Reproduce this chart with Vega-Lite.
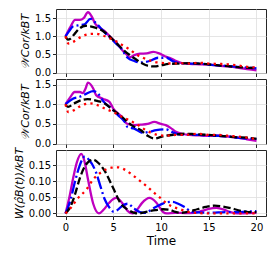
{
"$schema": "https://vega.github.io/schema/vega-lite/v6.json",
"padding": {"left": 12, "top": 7, "right": 4, "bottom": 5},
"spacing": 6,
"bounds": "flush",
"config": {
  "view": {"stroke": "#262626", "strokeWidth": 1},
  "axis": {"labelFont": "DejaVu Sans", "labelFontSize": 10, "labelColor": "#000", "titleFont": "DejaVu Sans", "titleFontWeight": "normal", "titleColor": "#000", "domain": false, "tickColor": "#262626", "tickSize": 3.5, "labelPadding": 2, "gridColor": "#dedede", "gridWidth": 0.8},
  "line": {"strokeWidth": 2.3, "interpolate": "monotone"}
},
"datasets": {"d": [
{"p":1,"s":"m","t":0,"v":1.0},{"p":1,"s":"m","t":0.5,"v":1.25},{"p":1,"s":"m","t":1.0,"v":1.45},{"p":1,"s":"m","t":1.5,"v":1.45},{"p":1,"s":"m","t":1.9,"v":1.5},{"p":1,"s":"m","t":2.35,"v":1.66},{"p":1,"s":"m","t":2.75,"v":1.54},{"p":1,"s":"m","t":3.1,"v":1.35},{"p":1,"s":"m","t":3.4,"v":1.27},{"p":1,"s":"m","t":4.1,"v":1.14},{"p":1,"s":"m","t":4.8,"v":0.95},{"p":1,"s":"m","t":5.5,"v":0.77},{"p":1,"s":"m","t":6.0,"v":0.6},{"p":1,"s":"m","t":6.4,"v":0.5},{"p":1,"s":"m","t":6.7,"v":0.42},{"p":1,"s":"m","t":7.2,"v":0.48},{"p":1,"s":"m","t":7.8,"v":0.52},{"p":1,"s":"m","t":8.5,"v":0.53},{"p":1,"s":"m","t":9.2,"v":0.57},{"p":1,"s":"m","t":9.8,"v":0.53},{"p":1,"s":"m","t":10.4,"v":0.45},{"p":1,"s":"m","t":10.9,"v":0.41},{"p":1,"s":"m","t":11.6,"v":0.32},{"p":1,"s":"m","t":12.2,"v":0.26},{"p":1,"s":"m","t":13,"v":0.24},{"p":1,"s":"m","t":14,"v":0.23},{"p":1,"s":"m","t":15,"v":0.22},{"p":1,"s":"m","t":16,"v":0.19},{"p":1,"s":"m","t":17,"v":0.17},{"p":1,"s":"m","t":18,"v":0.14},{"p":1,"s":"m","t":19,"v":0.1},{"p":1,"s":"m","t":20,"v":0.06},
{"p":1,"s":"b","t":0,"v":1.0},{"p":1,"s":"b","t":0.4,"v":1.15},{"p":1,"s":"b","t":0.77,"v":1.27},{"p":1,"s":"b","t":1.3,"v":1.3},{"p":1,"s":"b","t":2.0,"v":1.33},{"p":1,"s":"b","t":2.6,"v":1.48},{"p":1,"s":"b","t":3.2,"v":1.36},{"p":1,"s":"b","t":3.6,"v":1.25},{"p":1,"s":"b","t":4.0,"v":1.13},{"p":1,"s":"b","t":4.7,"v":0.95},{"p":1,"s":"b","t":5.3,"v":0.8},{"p":1,"s":"b","t":5.85,"v":0.66},{"p":1,"s":"b","t":6.2,"v":0.52},{"p":1,"s":"b","t":6.5,"v":0.41},{"p":1,"s":"b","t":7.2,"v":0.32},{"p":1,"s":"b","t":7.8,"v":0.28},{"p":1,"s":"b","t":8.8,"v":0.32},{"p":1,"s":"b","t":9.7,"v":0.41},{"p":1,"s":"b","t":10.6,"v":0.41},{"p":1,"s":"b","t":11.2,"v":0.32},{"p":1,"s":"b","t":12,"v":0.26},{"p":1,"s":"b","t":13,"v":0.25},{"p":1,"s":"b","t":14,"v":0.25},{"p":1,"s":"b","t":15,"v":0.22},{"p":1,"s":"b","t":16,"v":0.2},{"p":1,"s":"b","t":17,"v":0.18},{"p":1,"s":"b","t":18,"v":0.16},{"p":1,"s":"b","t":19,"v":0.14},{"p":1,"s":"b","t":20,"v":0.12},
{"p":1,"s":"k","t":0,"v":1.0},{"p":1,"s":"k","t":0.25,"v":0.91},{"p":1,"s":"k","t":0.5,"v":0.93},{"p":1,"s":"k","t":0.9,"v":1.05},{"p":1,"s":"k","t":1.4,"v":1.2},{"p":1,"s":"k","t":2.1,"v":1.29},{"p":1,"s":"k","t":2.6,"v":1.27},{"p":1,"s":"k","t":3.2,"v":1.23},{"p":1,"s":"k","t":3.7,"v":1.18},{"p":1,"s":"k","t":4.4,"v":1.05},{"p":1,"s":"k","t":5.3,"v":0.82},{"p":1,"s":"k","t":6.2,"v":0.59},{"p":1,"s":"k","t":6.8,"v":0.47},{"p":1,"s":"k","t":7.4,"v":0.36},{"p":1,"s":"k","t":8.0,"v":0.26},{"p":1,"s":"k","t":8.6,"v":0.19},{"p":1,"s":"k","t":9.3,"v":0.17},{"p":1,"s":"k","t":10.0,"v":0.2},{"p":1,"s":"k","t":10.8,"v":0.24},{"p":1,"s":"k","t":12,"v":0.25},{"p":1,"s":"k","t":13,"v":0.26},{"p":1,"s":"k","t":14,"v":0.25},{"p":1,"s":"k","t":15,"v":0.23},{"p":1,"s":"k","t":16,"v":0.2},{"p":1,"s":"k","t":17,"v":0.18},{"p":1,"s":"k","t":18,"v":0.15},{"p":1,"s":"k","t":19,"v":0.14},{"p":1,"s":"k","t":20,"v":0.12},
{"p":1,"s":"r","t":0,"v":1.0},{"p":1,"s":"r","t":0.3,"v":0.8},{"p":1,"s":"r","t":0.9,"v":0.86},{"p":1,"s":"r","t":1.6,"v":0.98},{"p":1,"s":"r","t":2.5,"v":1.06},{"p":1,"s":"r","t":3.2,"v":1.07},{"p":1,"s":"r","t":3.9,"v":1.02},{"p":1,"s":"r","t":4.6,"v":0.95},{"p":1,"s":"r","t":5.3,"v":0.86},{"p":1,"s":"r","t":6.0,"v":0.75},{"p":1,"s":"r","t":6.7,"v":0.64},{"p":1,"s":"r","t":7.4,"v":0.5},{"p":1,"s":"r","t":8.1,"v":0.41},{"p":1,"s":"r","t":9.0,"v":0.32},{"p":1,"s":"r","t":9.6,"v":0.28},{"p":1,"s":"r","t":10.5,"v":0.26},{"p":1,"s":"r","t":11.2,"v":0.25},{"p":1,"s":"r","t":12,"v":0.26},{"p":1,"s":"r","t":13,"v":0.25},{"p":1,"s":"r","t":14,"v":0.27},{"p":1,"s":"r","t":15,"v":0.25},{"p":1,"s":"r","t":16,"v":0.24},{"p":1,"s":"r","t":17,"v":0.23},{"p":1,"s":"r","t":18,"v":0.2},{"p":1,"s":"r","t":19,"v":0.16},{"p":1,"s":"r","t":20,"v":0.14},
{"p":2,"s":"m","t":0,"v":1.0},{"p":2,"s":"m","t":0.5,"v":1.18},{"p":2,"s":"m","t":0.95,"v":1.31},{"p":2,"s":"m","t":1.5,"v":1.31},{"p":2,"s":"m","t":1.8,"v":1.28},{"p":2,"s":"m","t":2.1,"v":1.4},{"p":2,"s":"m","t":2.35,"v":1.55},{"p":2,"s":"m","t":2.9,"v":1.4},{"p":2,"s":"m","t":3.2,"v":1.23},{"p":2,"s":"m","t":3.9,"v":1.14},{"p":2,"s":"m","t":4.6,"v":1.06},{"p":2,"s":"m","t":5.0,"v":0.89},{"p":2,"s":"m","t":5.9,"v":0.68},{"p":2,"s":"m","t":6.4,"v":0.51},{"p":2,"s":"m","t":7.1,"v":0.47},{"p":2,"s":"m","t":7.9,"v":0.48},{"p":2,"s":"m","t":8.6,"v":0.5},{"p":2,"s":"m","t":9.3,"v":0.55},{"p":2,"s":"m","t":10.0,"v":0.5},{"p":2,"s":"m","t":10.5,"v":0.47},{"p":2,"s":"m","t":11.0,"v":0.4},{"p":2,"s":"m","t":11.5,"v":0.31},{"p":2,"s":"m","t":12.2,"v":0.25},{"p":2,"s":"m","t":13,"v":0.22},{"p":2,"s":"m","t":14,"v":0.21},{"p":2,"s":"m","t":15,"v":0.2},{"p":2,"s":"m","t":16,"v":0.2},{"p":2,"s":"m","t":17,"v":0.18},{"p":2,"s":"m","t":18,"v":0.15},{"p":2,"s":"m","t":19,"v":0.11},{"p":2,"s":"m","t":20,"v":0.07},
{"p":2,"s":"b","t":0,"v":1.0},{"p":2,"s":"b","t":0.4,"v":1.08},{"p":2,"s":"b","t":0.77,"v":1.14},{"p":2,"s":"b","t":1.5,"v":1.19},{"p":2,"s":"b","t":2.2,"v":1.27},{"p":2,"s":"b","t":2.9,"v":1.33},{"p":2,"s":"b","t":3.4,"v":1.27},{"p":2,"s":"b","t":4.0,"v":1.06},{"p":2,"s":"b","t":4.8,"v":0.89},{"p":2,"s":"b","t":5.5,"v":0.72},{"p":2,"s":"b","t":6.2,"v":0.55},{"p":2,"s":"b","t":6.5,"v":0.42},{"p":2,"s":"b","t":7.2,"v":0.38},{"p":2,"s":"b","t":8.1,"v":0.27},{"p":2,"s":"b","t":8.8,"v":0.3},{"p":2,"s":"b","t":9.5,"v":0.34},{"p":2,"s":"b","t":10.5,"v":0.36},{"p":2,"s":"b","t":11.3,"v":0.28},{"p":2,"s":"b","t":12,"v":0.23},{"p":2,"s":"b","t":13,"v":0.22},{"p":2,"s":"b","t":14,"v":0.22},{"p":2,"s":"b","t":15,"v":0.2},{"p":2,"s":"b","t":16,"v":0.2},{"p":2,"s":"b","t":17,"v":0.18},{"p":2,"s":"b","t":18,"v":0.15},{"p":2,"s":"b","t":19,"v":0.13},{"p":2,"s":"b","t":20,"v":0.12},
{"p":2,"s":"k","t":0,"v":1.0},{"p":2,"s":"k","t":0.25,"v":0.93},{"p":2,"s":"k","t":0.9,"v":1.02},{"p":2,"s":"k","t":1.6,"v":1.1},{"p":2,"s":"k","t":2.3,"v":1.13},{"p":2,"s":"k","t":3.4,"v":1.08},{"p":2,"s":"k","t":4.1,"v":1.02},{"p":2,"s":"k","t":5.0,"v":0.85},{"p":2,"s":"k","t":5.9,"v":0.68},{"p":2,"s":"k","t":6.9,"v":0.47},{"p":2,"s":"k","t":7.9,"v":0.34},{"p":2,"s":"k","t":8.6,"v":0.2},{"p":2,"s":"k","t":9.3,"v":0.13},{"p":2,"s":"k","t":10.0,"v":0.17},{"p":2,"s":"k","t":10.5,"v":0.2},{"p":2,"s":"k","t":11.5,"v":0.23},{"p":2,"s":"k","t":12.5,"v":0.25},{"p":2,"s":"k","t":13.5,"v":0.24},{"p":2,"s":"k","t":15,"v":0.22},{"p":2,"s":"k","t":16,"v":0.2},{"p":2,"s":"k","t":17,"v":0.18},{"p":2,"s":"k","t":18,"v":0.16},{"p":2,"s":"k","t":19,"v":0.15},{"p":2,"s":"k","t":20,"v":0.12},
{"p":2,"s":"r","t":0,"v":1.0},{"p":2,"s":"r","t":0.3,"v":0.8},{"p":2,"s":"r","t":0.9,"v":0.85},{"p":2,"s":"r","t":1.6,"v":0.96},{"p":2,"s":"r","t":2.5,"v":1.02},{"p":2,"s":"r","t":3.2,"v":0.99},{"p":2,"s":"r","t":4.1,"v":0.89},{"p":2,"s":"r","t":5.0,"v":0.8},{"p":2,"s":"r","t":5.9,"v":0.68},{"p":2,"s":"r","t":6.7,"v":0.59},{"p":2,"s":"r","t":7.6,"v":0.47},{"p":2,"s":"r","t":8.5,"v":0.33},{"p":2,"s":"r","t":9.5,"v":0.23},{"p":2,"s":"r","t":10.5,"v":0.2},{"p":2,"s":"r","t":11.5,"v":0.22},{"p":2,"s":"r","t":12.5,"v":0.22},{"p":2,"s":"r","t":14,"v":0.25},{"p":2,"s":"r","t":15,"v":0.22},{"p":2,"s":"r","t":16,"v":0.22},{"p":2,"s":"r","t":17,"v":0.2},{"p":2,"s":"r","t":18,"v":0.18},{"p":2,"s":"r","t":19,"v":0.15},{"p":2,"s":"r","t":20,"v":0.12},
{"p":3,"s":"m","t":0,"v":0},{"p":3,"s":"m","t":0.4,"v":0.05},{"p":3,"s":"m","t":0.8,"v":0.11},{"p":3,"s":"m","t":1.2,"v":0.16},{"p":3,"s":"m","t":1.65,"v":0.185},{"p":3,"s":"m","t":2.0,"v":0.16},{"p":3,"s":"m","t":2.35,"v":0.106},{"p":3,"s":"m","t":2.9,"v":0.03},{"p":3,"s":"m","t":3.5,"v":0},{"p":3,"s":"m","t":4.0,"v":0.012},{"p":3,"s":"m","t":4.6,"v":0.034},{"p":3,"s":"m","t":5.3,"v":0.048},{"p":3,"s":"m","t":6.0,"v":0.03},{"p":3,"s":"m","t":6.5,"v":0.008},{"p":3,"s":"m","t":7.0,"v":0},{"p":3,"s":"m","t":7.5,"v":0.012},{"p":3,"s":"m","t":8.0,"v":0.032},{"p":3,"s":"m","t":8.8,"v":0.048},{"p":3,"s":"m","t":9.5,"v":0.034},{"p":3,"s":"m","t":10.2,"v":0.005},{"p":3,"s":"m","t":10.6,"v":0},{"p":3,"s":"m","t":11.5,"v":0.002},{"p":3,"s":"m","t":12.5,"v":0.001},{"p":3,"s":"m","t":13.5,"v":0.002},{"p":3,"s":"m","t":14.3,"v":0.008},{"p":3,"s":"m","t":15.0,"v":0.014},{"p":3,"s":"m","t":15.8,"v":0.017},{"p":3,"s":"m","t":16.6,"v":0.012},{"p":3,"s":"m","t":17.2,"v":0.005},{"p":3,"s":"m","t":18,"v":0},{"p":3,"s":"m","t":19,"v":0.001},{"p":3,"s":"m","t":20,"v":0.002},
{"p":3,"s":"b","t":0,"v":0},{"p":3,"s":"b","t":0.5,"v":0.04},{"p":3,"s":"b","t":1.0,"v":0.1},{"p":3,"s":"b","t":1.5,"v":0.15},{"p":3,"s":"b","t":2.0,"v":0.176},{"p":3,"s":"b","t":2.5,"v":0.165},{"p":3,"s":"b","t":3.2,"v":0.127},{"p":3,"s":"b","t":3.7,"v":0.08},{"p":3,"s":"b","t":4.1,"v":0.044},{"p":3,"s":"b","t":4.6,"v":0.018},{"p":3,"s":"b","t":5.0,"v":0.006},{"p":3,"s":"b","t":5.4,"v":0.01},{"p":3,"s":"b","t":6.0,"v":0.025},{"p":3,"s":"b","t":6.5,"v":0.03},{"p":3,"s":"b","t":7.2,"v":0.015},{"p":3,"s":"b","t":7.8,"v":0.004},{"p":3,"s":"b","t":8.3,"v":0.002},{"p":3,"s":"b","t":8.8,"v":0.008},{"p":3,"s":"b","t":9.4,"v":0.019},{"p":3,"s":"b","t":10.0,"v":0.028},{"p":3,"s":"b","t":10.5,"v":0.034},{"p":3,"s":"b","t":11.2,"v":0.036},{"p":3,"s":"b","t":11.8,"v":0.03},{"p":3,"s":"b","t":12.5,"v":0.019},{"p":3,"s":"b","t":13.3,"v":0.004},{"p":3,"s":"b","t":14,"v":0.003},{"p":3,"s":"b","t":15,"v":0.002},{"p":3,"s":"b","t":16,"v":0.003},{"p":3,"s":"b","t":17,"v":0.004},{"p":3,"s":"b","t":18,"v":0.004},{"p":3,"s":"b","t":19,"v":0.006},{"p":3,"s":"b","t":20,"v":0.007},
{"p":3,"s":"k","t":0,"v":0},{"p":3,"s":"k","t":0.5,"v":0.02},{"p":3,"s":"k","t":1.0,"v":0.06},{"p":3,"s":"k","t":1.5,"v":0.11},{"p":3,"s":"k","t":2.0,"v":0.145},{"p":3,"s":"k","t":2.5,"v":0.163},{"p":3,"s":"k","t":2.9,"v":0.167},{"p":3,"s":"k","t":3.5,"v":0.155},{"p":3,"s":"k","t":4.1,"v":0.132},{"p":3,"s":"k","t":5.0,"v":0.078},{"p":3,"s":"k","t":5.8,"v":0.03},{"p":3,"s":"k","t":6.5,"v":0.012},{"p":3,"s":"k","t":7.2,"v":0.002},{"p":3,"s":"k","t":7.6,"v":0},{"p":3,"s":"k","t":8.6,"v":0.006},{"p":3,"s":"k","t":9.4,"v":0.01},{"p":3,"s":"k","t":10.2,"v":0.013},{"p":3,"s":"k","t":10.8,"v":0.012},{"p":3,"s":"k","t":11.5,"v":0.005},{"p":3,"s":"k","t":12.1,"v":0.002},{"p":3,"s":"k","t":13,"v":0.006},{"p":3,"s":"k","t":13.8,"v":0.013},{"p":3,"s":"k","t":14.7,"v":0.02},{"p":3,"s":"k","t":15.6,"v":0.024},{"p":3,"s":"k","t":16.4,"v":0.022},{"p":3,"s":"k","t":17.2,"v":0.017},{"p":3,"s":"k","t":18.4,"v":0.008},{"p":3,"s":"k","t":19.2,"v":0.004},{"p":3,"s":"k","t":20,"v":0.004},
{"p":3,"s":"r","t":0,"v":0},{"p":3,"s":"r","t":0.6,"v":0.019},{"p":3,"s":"r","t":1.2,"v":0.044},{"p":3,"s":"r","t":2.2,"v":0.075},{"p":3,"s":"r","t":2.9,"v":0.106},{"p":3,"s":"r","t":3.7,"v":0.127},{"p":3,"s":"r","t":4.8,"v":0.142},{"p":3,"s":"r","t":5.5,"v":0.143},{"p":3,"s":"r","t":6.2,"v":0.136},{"p":3,"s":"r","t":6.9,"v":0.122},{"p":3,"s":"r","t":7.8,"v":0.101},{"p":3,"s":"r","t":8.6,"v":0.082},{"p":3,"s":"r","t":9.2,"v":0.066},{"p":3,"s":"r","t":9.9,"v":0.049},{"p":3,"s":"r","t":10.5,"v":0.033},{"p":3,"s":"r","t":11.0,"v":0.024},{"p":3,"s":"r","t":12.1,"v":0.012},{"p":3,"s":"r","t":13,"v":0.004},{"p":3,"s":"r","t":14,"v":0.001},{"p":3,"s":"r","t":15,"v":0},{"p":3,"s":"r","t":16,"v":0},{"p":3,"s":"r","t":17,"v":0},{"p":3,"s":"r","t":18,"v":0},{"p":3,"s":"r","t":19,"v":0},{"p":3,"s":"r","t":20,"v":0}
]},
"vconcat": [
{"width": 210, "height": 64, "data": {"name": "d"}, "transform": [{"filter": "datum.p == 1"}],
 "encoding": {
  "x": {"field": "t", "type": "quantitative", "scale": {"domain": [-1, 21], "nice": false, "zero": false}, "axis": {"values": [0,5,10,15,20], "labels": false, "title": null}},
  "y": {"field": "v", "type": "quantitative", "scale": {"domain": [-0.01, 1.75], "nice": false, "zero": false}, "axis": {"values": [0,0.5,1,1.5], "format": ".1f", "title": "𝒲Cor/kBT", "titleFontSize": 11, "titleFontStyle": "italic", "titlePadding": 4}}
 },
 "layer": [
  {"transform": [{"filter": "datum.s == 'm'"}], "mark": {"type": "line", "color": "#bf00bf"}},
  {"transform": [{"filter": "datum.s == 'b'"}], "mark": {"type": "line", "color": "#0000ff", "strokeDash": [12.8, 3.2, 2, 3.2]}},
  {"transform": [{"filter": "datum.s == 'k'"}], "mark": {"type": "line", "color": "#000000", "strokeDash": [7.4, 3.2]}},
  {"transform": [{"filter": "datum.s == 'r'"}], "mark": {"type": "line", "color": "#ff0000", "strokeDash": [2.3, 4.2]}}
 ]},
{"width": 210, "height": 65, "data": {"name": "d"}, "transform": [{"filter": "datum.p == 2"}],
 "encoding": {
  "x": {"field": "t", "type": "quantitative", "scale": {"domain": [-1, 21], "nice": false, "zero": false}, "axis": {"values": [0,5,10,15,20], "labels": false, "title": null}},
  "y": {"field": "v", "type": "quantitative", "scale": {"domain": [-0.01, 1.64], "nice": false, "zero": false}, "axis": {"values": [0,0.5,1,1.5], "format": ".1f", "title": "𝒲Cor/kBT", "titleFontSize": 11, "titleFontStyle": "italic", "titlePadding": 4}}
 },
 "layer": [
  {"transform": [{"filter": "datum.s == 'm'"}], "mark": {"type": "line", "color": "#bf00bf"}},
  {"transform": [{"filter": "datum.s == 'b'"}], "mark": {"type": "line", "color": "#0000ff", "strokeDash": [12.8, 3.2, 2, 3.2]}},
  {"transform": [{"filter": "datum.s == 'k'"}], "mark": {"type": "line", "color": "#000000", "strokeDash": [7.4, 3.2]}},
  {"transform": [{"filter": "datum.s == 'r'"}], "mark": {"type": "line", "color": "#ff0000", "strokeDash": [2.3, 4.2]}}
 ]},
{"width": 210, "height": 66, "data": {"name": "d"}, "transform": [{"filter": "datum.p == 3"}],
 "encoding": {
  "x": {"field": "t", "type": "quantitative", "scale": {"domain": [-1, 21], "nice": false, "zero": false}, "axis": {"values": [0,5,10,15,20], "title": "Time", "titleFontSize": 12, "labelPadding": 3, "titlePadding": 3}},
  "y": {"field": "v", "type": "quantitative", "scale": {"domain": [-0.008, 0.197], "nice": false, "zero": false}, "axis": {"values": [0,0.05,0.1,0.15], "format": ".2f", "title": "W(ρ̂B(t))/kBT", "titleFontSize": 11, "titleFontStyle": "italic", "titlePadding": 4}}
 },
 "layer": [
  {"transform": [{"filter": "datum.s == 'm'"}], "mark": {"type": "line", "color": "#bf00bf"}},
  {"transform": [{"filter": "datum.s == 'b'"}], "mark": {"type": "line", "color": "#0000ff", "strokeDash": [12.8, 3.2, 2, 3.2]}},
  {"transform": [{"filter": "datum.s == 'k'"}], "mark": {"type": "line", "color": "#000000", "strokeDash": [7.4, 3.2]}},
  {"transform": [{"filter": "datum.s == 'r'"}], "mark": {"type": "line", "color": "#ff0000", "strokeDash": [2.3, 4.2]}}
 ]}
]
}
